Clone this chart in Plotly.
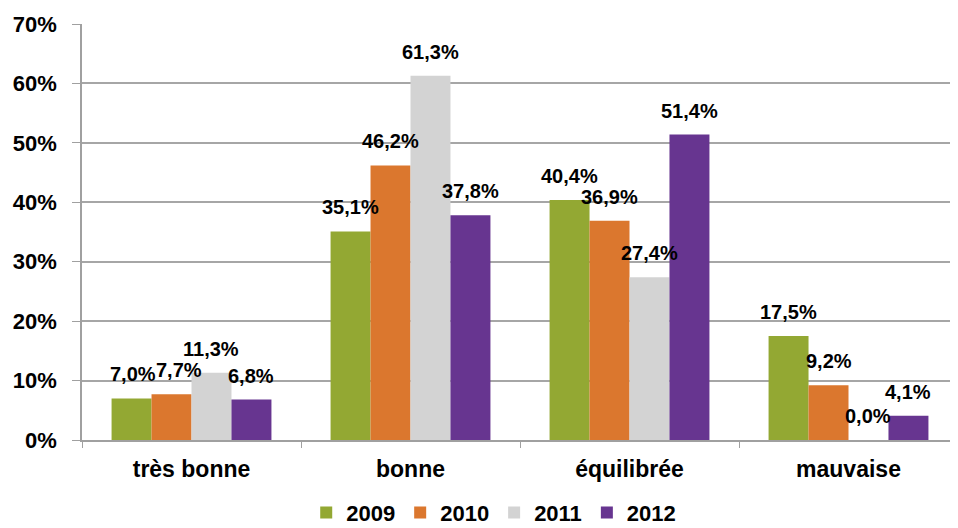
import plotly.graph_objects as go

categories = ["très bonne", "bonne", "équilibrée", "mauvaise"]
years = ["2009", "2010", "2011", "2012"]
v2009 = [0.070, 0.351, 0.404, 0.175]
v2010 = [0.077, 0.462, 0.369, 0.092]
v2011 = [0.113, 0.613, 0.274, 0.000]
v2012 = [0.068, 0.378, 0.514, 0.041]
colors = ["#93a833", "#db772e", "#d3d3d3", "#673590"]

series = [v2009, v2010, v2011, v2012]
FONT = "Liberation Sans, Arial, sans-serif"
BARGAP = 0.27
# small horizontal nudges (px) for crowded labels: (category index, series index)
LABEL_NUDGE = {(0, 0): 1, (0, 1): 7}

fig = go.Figure()
for name, vals, col in zip(years, series, colors):
    fig.add_trace(go.Bar(
        x=list(range(len(categories))), y=vals, name=f"<b>{name}</b>",
        marker=dict(color=col, line=dict(width=0)),
    ))

# data labels above each bar
n = len(series)
w = (1 - BARGAP) / n
for j, vals in enumerate(series):
    for i, v in enumerate(vals):
        fig.add_annotation(
            x=i + (j - (n - 1) / 2) * w, y=v, xref="x", yref="y",
            text="<b>" + f"{v*100:.1f}".replace(".", ",") + "%</b>",
            showarrow=False, yanchor="bottom", xanchor="center", yshift=11,
            xshift=LABEL_NUDGE.get((i, j), 0),
            font=dict(family=FONT, size=20, color="#000000"),
        )

fig.update_layout(
    width=950, height=520,
    margin=dict(l=74, r=0, t=16, b=88, autoexpand=False),
    paper_bgcolor="white", plot_bgcolor="white",
    barmode="group", bargap=BARGAP, bargroupgap=0,
    font=dict(family=FONT, color="#000000"),
    showlegend=True,
    legend=dict(orientation="h", x=0.47, xanchor="center", y=-0.175, yanchor="middle",
                font=dict(family=FONT, size=22, color="#000000"),
                traceorder="normal"),
    xaxis=dict(
        tickmode="array", tickvals=list(range(len(categories))),
        ticktext=[f"<b>{c}</b>" for c in categories],
        range=[-0.5, len(categories) - 0.5],
        showline=True, linecolor="#a0a0a0", linewidth=1.5,
        ticks="", showgrid=False, zeroline=False,
        tickfont=dict(family=FONT, size=23, color="#000000"),
        ticklabelstandoff=8,
        minor=dict(tickmode="array", tickvals=[k + 0.5 for k in range(len(categories) - 1)] + [-0.5],
                   ticks="outside", ticklen=6, tickcolor="#a0a0a0", showgrid=False),
    ),
    yaxis=dict(
        range=[0, 0.7], dtick=0.1, tickformat=".0%",
        tickprefix="<b>", ticksuffix="</b>",
        showline=True, linecolor="#a0a0a0", linewidth=1.5,
        ticks="outside", ticklen=8, tickcolor="#a0a0a0",
        showgrid=True, gridcolor="#a6a6a6", gridwidth=1.5,
        zeroline=False,
        tickfont=dict(family=FONT, size=22, color="#000000"),
        ticklabelstandoff=11,
    ),
)

fig.write_html("out.html")
